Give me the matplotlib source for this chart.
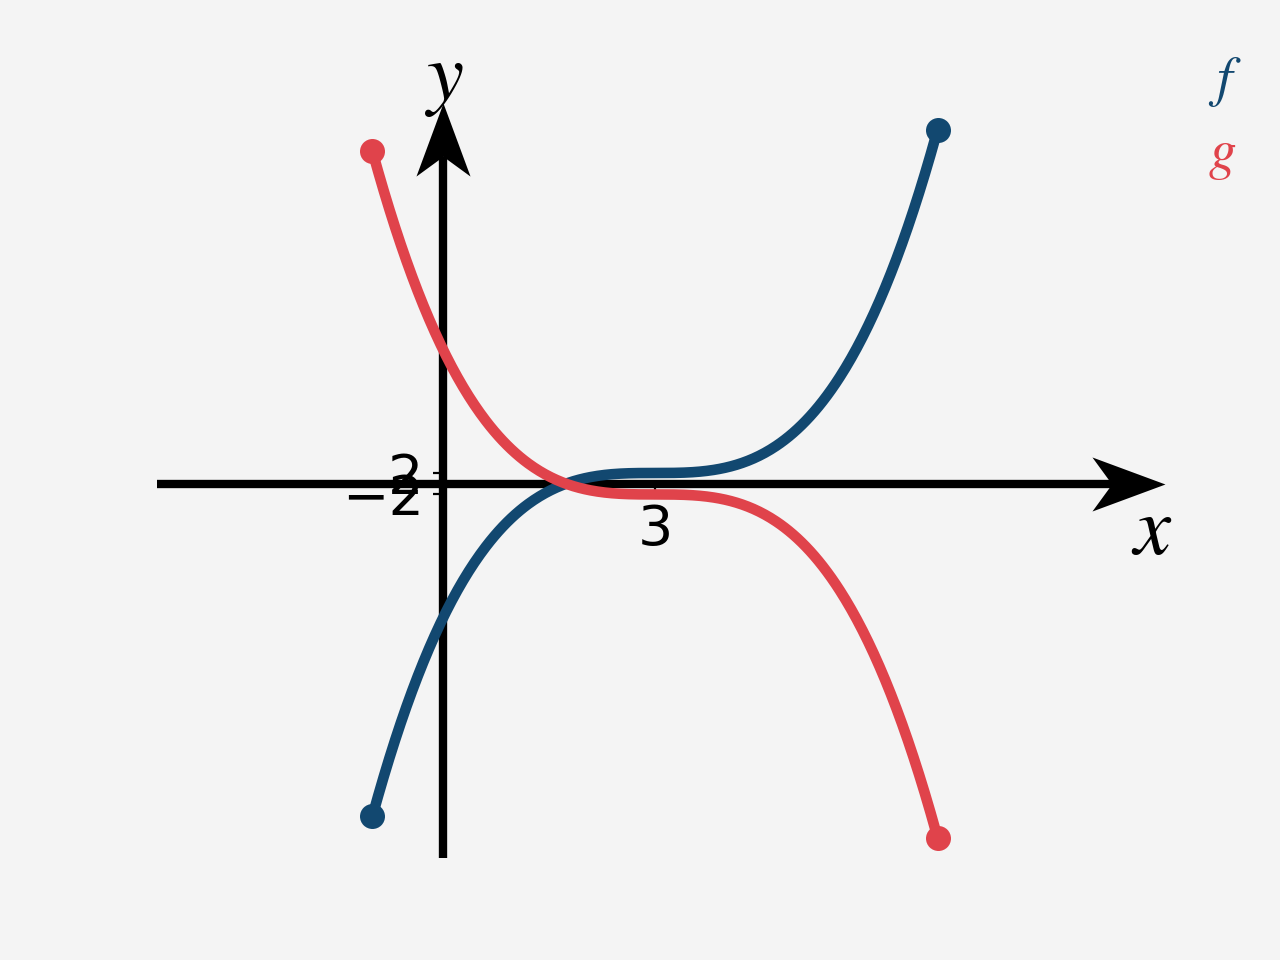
import numpy as np
import matplotlib.pyplot as plt
from matplotlib.path import Path

plt.rcParams['mathtext.fontset'] = 'stix'

# curves as polynomial coefficients (highest power first) over their domain
f_coeffs = [1, -9, 27, -25]     # f(x) = (x-3)^3 + 2
g_coeffs = [-1, 9, -27, 25]     # g(x) = -(x-3)^3 - 2
domain = [-1, 7]
names = ['f', 'g']
colors = ['#124870', '#e0434b']

xticks = [3]
yticks = [-2, 2]

bg = '#f4f4f4'
fig = plt.figure(figsize=(6.4, 4.8), dpi=200, facecolor=bg)
ax = fig.add_axes([0.12266, 0.10625, 0.7875, 0.78646])
ax.set_facecolor(bg)

xmin, xmax = -4.05, 10.22
ymin, ymax = -69.8, 71.0
ax.set_xlim(xmin, xmax)
ax.set_ylim(ymin, ymax)

xs = np.linspace(domain[0], domain[1], 400)
for coeffs, c, z in zip([f_coeffs, g_coeffs], colors, [4, 5]):
    ax.plot(xs, np.polyval(coeffs, xs), color=c, lw=3.8, zorder=z,
            solid_capstyle='round', clip_on=False)
    ax.plot(domain, np.polyval(coeffs, domain), 'o', color=c, ms=9,
            mew=0, zorder=z, clip_on=False)

# axes through origin
for s in ['top', 'right']:
    ax.spines[s].set_visible(False)
ax.spines['left'].set_position(('data', 0))
ax.spines['bottom'].set_position(('data', 0))
for s in ['left', 'bottom']:
    ax.spines[s].set_linewidth(3)
    ax.spines[s].set_capstyle('butt')
ax.spines['bottom'].set_bounds(xmin, xmax - 0.6)
ax.spines['left'].set_bounds(ymin, ymax - 10)

ax.set_xticks(xticks)
ax.set_yticks(yticks)
ax.tick_params(labelsize=20)

# stealth-like arrow heads
xhead = Path([(0, 0), (-1, 0.37), (-0.73, 0), (-1, -0.37), (0, 0)],
             [Path.MOVETO, Path.LINETO, Path.LINETO, Path.LINETO, Path.CLOSEPOLY])
yhead = Path([(0, 0), (0.37, -1), (0, -0.73), (-0.37, -1), (0, 0)],
             [Path.MOVETO, Path.LINETO, Path.LINETO, Path.LINETO, Path.CLOSEPOLY])
ax.plot([xmax], [0], marker=xhead, ms=52.6, color='black', mew=0,
        clip_on=False, zorder=3)
ax.plot([0], [ymax], marker=yhead, ms=52.6, color='black', mew=0,
        clip_on=False, zorder=3)

fig.text(0.9, 0.4469, '$x$', fontsize=30, ha='center', va='center')
fig.text(0.347, 0.918, '$y$', fontsize=30, ha='center', va='center')

fig.text(0.957, 0.9146, '$' + names[0] + '$', fontsize=20, color=colors[0],
         ha='center', va='center')
fig.text(0.9547, 0.8385, '$' + names[1] + '$', fontsize=20, color=colors[1],
         ha='center', va='center')

fig.savefig('out.png', facecolor=bg)
